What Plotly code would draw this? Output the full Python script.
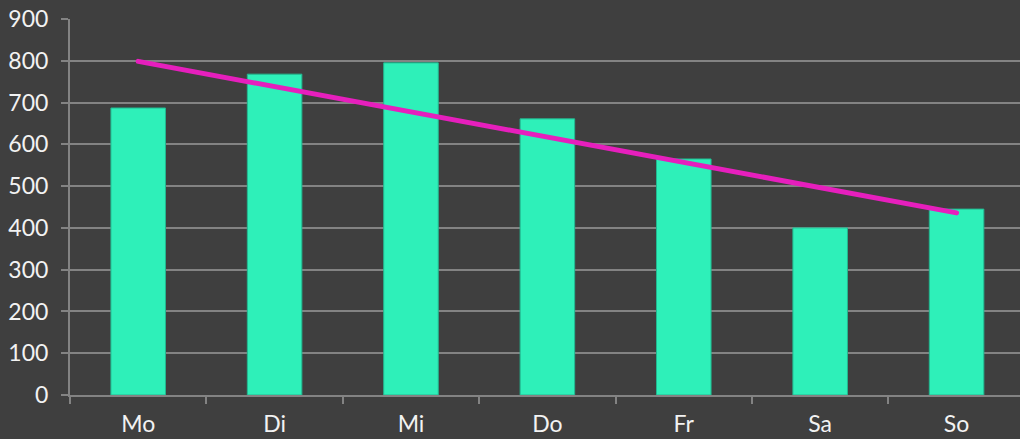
import numpy as np
import plotly.graph_objects as go

days = ["Mo", "Di", "Mi", "Do", "Fr", "Sa", "So"]
values = [687, 768, 795, 661, 565, 400, 445]
y_ticks = [0, 100, 200, 300, 400, 500, 600, 700, 800, 900]

xi = np.arange(len(days))
slope, intercept = np.polyfit(xi, values, 1)
trend = [intercept, intercept + slope * (len(days) - 1)]

bg = "#3f3f3f"
grid = "#838383"
font_color = "#f2f2f2"

fig = go.Figure()
fig.add_trace(go.Bar(
    x=days, y=values, width=0.4,
    marker=dict(color="#2ef0b9", line=dict(color="#22b890", width=1)),
    showlegend=False,
))
fig.add_trace(go.Scatter(
    x=[days[0], days[-1]], y=trend, mode="lines",
    line=dict(color="#e61fbd", width=5),
    showlegend=False,
))

fig.update_layout(
    width=1020, height=439,
    paper_bgcolor=bg, plot_bgcolor=bg,
    margin=dict(l=70, r=0, t=19, b=44),
    font=dict(family="Lato, Noto Sans, sans-serif", size=22, color=font_color),
    bargap=0.6,
)
fig.update_xaxes(
    range=[-0.5, 6.465],
    showline=True, linecolor=grid, linewidth=2,
    ticks="outside", tickson="boundaries", ticklen=7, tickcolor=grid, tickwidth=2,
    showgrid=False,
    tickfont=dict(size=23, color=font_color),
    ticklabelstandoff=7,
    automargin=False,
)
fig.update_yaxes(
    range=[0, 900], tickvals=y_ticks,
    showline=True, linecolor=grid, linewidth=2,
    ticks="outside", ticklen=7, tickcolor=grid, tickwidth=2,
    showgrid=True, gridcolor=grid, gridwidth=2,
    zeroline=False,
    tickfont=dict(size=23, color=font_color),
    ticklabelstandoff=8,
    automargin=False,
)

post = (
    "document.body.style.margin='0';"
    "document.body.style.padding='0';"
    "document.body.style.overflow='hidden';"
    "document.body.style.background='" + bg + "';"
    "document.querySelectorAll('path.js-line').forEach(function(p){"
    "p.style.strokeLinecap='round';});"
)
fig.write_html("out.html", post_script=post, config={"displayModeBar": False})
